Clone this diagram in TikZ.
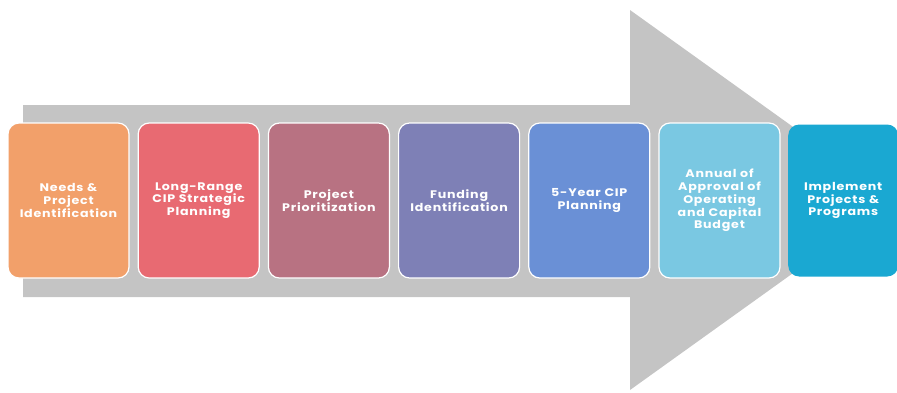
\documentclass[tikz,border=0pt]{standalone}
\usepackage{fontspec}
\setmainfont{Poppins}
\newfontfamily\cipfont{Poppins}[FakeStretch=1.15,LetterSpace=7]
\usepackage{xcolor}
\usepackage{tikz}
\usetikzlibrary{positioning}
\definecolor{arrowgrey}{RGB}{196,196,196}
\definecolor{cipOrange}{RGB}{242,160,106}
\definecolor{cipRose}{RGB}{232,106,114}
\definecolor{cipMauve}{RGB}{184,114,130}
\definecolor{cipSlate}{RGB}{126,128,182}
\definecolor{cipBlue}{RGB}{106,144,214}
\definecolor{cipSky}{RGB}{122,200,226}
\definecolor{cipTeal}{RGB}{26,168,210}
\tikzset{
  cipbox/.style={draw=white,line width=1.2pt,rounded corners=11pt,align=center,
    minimum width=121pt,minimum height=155pt,text width=116pt,inner sep=2pt,
    text=white,font=\cipfont\fontsize{11}{12.8}\selectfont\bfseries},
}

\begin{document}
\begin{tikzpicture}[x=1pt,y=-1pt,node distance=8pt]
          \useasboundingbox (0,0) rectangle (897,392);
          %% big grey arrow behind the boxes
          \fill[arrowgrey] (23,105) -- (630,105) -- (630,10) -- (895,200)
            -- (630,390) -- (630,297) -- (23,297) -- cycle;
          %% the seven steps, left to right
          \node[cipbox,fill=cipOrange] (sNeeds) at (68.5,200.5) {Needs \&\\Project\\Identification};
          \node[cipbox,fill=cipRose,right=of sNeeds] (sLong) {Long-Range\\CIP Strategic\\Planning};
          \node[cipbox,fill=cipMauve,right=of sLong] (sPrio) {Project\\Prioritization};
          \node[cipbox,fill=cipSlate,right=of sPrio] (sFund) {Funding\\Identification};
          \node[cipbox,fill=cipBlue,right=of sFund] (sFive) {5-Year CIP\\Planning};
          \node[cipbox,fill=cipSky,right=of sFive] (sBudget) {Annual of\\Approval of\\Operating\\and Capital\\Budget};
          \node[cipbox,fill=cipTeal,draw=none,minimum width=110pt,text width=106pt,minimum height=152pt,right=7pt of sBudget] (sImpl) {Implement\\Projects \&\\Programs};
        \end{tikzpicture}
\end{document}
